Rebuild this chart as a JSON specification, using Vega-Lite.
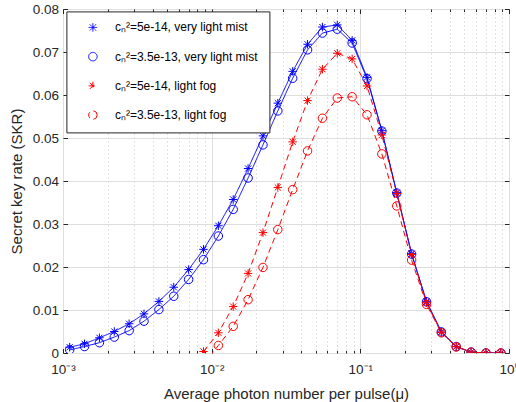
{
  "$schema": "https://vega.github.io/schema/vega-lite/v6.json",
  "width": 446,
  "height": 344,
  "autosize": "none",
  "padding": {"left": 63, "top": 9, "right": 7, "bottom": 49},
  "background": "white",
  "config": {
    "font": "Liberation Sans",
    "view": {"stroke": "#262626", "strokeWidth": 1},
    "axis": {"labelFont": "Liberation Sans", "titleFont": "Liberation Sans", "labelColor": "#262626", "titleColor": "#262626", "tickColor": "#262626", "domain": false, "titleFontWeight": "normal", "labelFontSize": 13.5, "titleFontSize": 15},
    "legend": {
      "orient": "none", "legendX": 3.4, "legendY": 2.4, "title": null,
      "padding": 11, "strokeColor": "#262626", "strokeWidth": 1, "fillColor": "white",
      "clipHeight": 10.1, "rowPadding": 16.2,
      "symbolSize": 72, "symbolOffset": 9.5, "labelOffset": 16, "symbolDash": [1, 0], "symbolStrokeWidth": 1,
      "labelFont": "Liberation Sans", "labelFontSize": 12, "labelColor": "#000000", "labelLimit": 0
    }
  },
  "data": {"values": [
    {"mu": 0.001109, "skr": 0.00135, "s": "a"},
    {"mu": 0.001396, "skr": 0.00214, "s": "a"},
    {"mu": 0.001758, "skr": 0.00354, "s": "a"},
    {"mu": 0.002213, "skr": 0.0050, "s": "a"},
    {"mu": 0.002786, "skr": 0.0068, "s": "a"},
    {"mu": 0.003507, "skr": 0.0091, "s": "a"},
    {"mu": 0.004416, "skr": 0.0120, "s": "a"},
    {"mu": 0.005559, "skr": 0.0153, "s": "a"},
    {"mu": 0.006998, "skr": 0.0194, "s": "a"},
    {"mu": 0.00881, "skr": 0.0241, "s": "a"},
    {"mu": 0.01109, "skr": 0.0296, "s": "a"},
    {"mu": 0.01396, "skr": 0.0357, "s": "a"},
    {"mu": 0.01758, "skr": 0.0429, "s": "a"},
    {"mu": 0.02213, "skr": 0.0505, "s": "a"},
    {"mu": 0.02786, "skr": 0.0581, "s": "a"},
    {"mu": 0.03507, "skr": 0.0655, "s": "a"},
    {"mu": 0.04416, "skr": 0.0718, "s": "a"},
    {"mu": 0.05559, "skr": 0.0758, "s": "a"},
    {"mu": 0.06998, "skr": 0.0763, "s": "a"},
    {"mu": 0.0881, "skr": 0.0727, "s": "a"},
    {"mu": 0.1109, "skr": 0.0641, "s": "a"},
    {"mu": 0.1396, "skr": 0.0517, "s": "a"},
    {"mu": 0.1758, "skr": 0.0373, "s": "a"},
    {"mu": 0.2213, "skr": 0.0231, "s": "a"},
    {"mu": 0.2786, "skr": 0.0120, "s": "a"},
    {"mu": 0.3507, "skr": 0.0049, "s": "a"},
    {"mu": 0.4416, "skr": 0.0015, "s": "a"},
    {"mu": 0.5559, "skr": 0.0002, "s": "a"},
    {"mu": 0.6998, "skr": 0.0, "s": "a"},
    {"mu": 0.881, "skr": 0.0, "s": "a"},

    {"mu": 0.001109, "skr": 0.00075, "s": "b"},
    {"mu": 0.001396, "skr": 0.0015, "s": "b"},
    {"mu": 0.001758, "skr": 0.0024, "s": "b"},
    {"mu": 0.002213, "skr": 0.0037, "s": "b"},
    {"mu": 0.002786, "skr": 0.0052, "s": "b"},
    {"mu": 0.003507, "skr": 0.0074, "s": "b"},
    {"mu": 0.004416, "skr": 0.0101, "s": "b"},
    {"mu": 0.005559, "skr": 0.0132, "s": "b"},
    {"mu": 0.006998, "skr": 0.0171, "s": "b"},
    {"mu": 0.00881, "skr": 0.0217, "s": "b"},
    {"mu": 0.01109, "skr": 0.0272, "s": "b"},
    {"mu": 0.01396, "skr": 0.0334, "s": "b"},
    {"mu": 0.01758, "skr": 0.0407, "s": "b"},
    {"mu": 0.02213, "skr": 0.0484, "s": "b"},
    {"mu": 0.02786, "skr": 0.0563, "s": "b"},
    {"mu": 0.03507, "skr": 0.0639, "s": "b"},
    {"mu": 0.04416, "skr": 0.0705, "s": "b"},
    {"mu": 0.05559, "skr": 0.0744, "s": "b"},
    {"mu": 0.06998, "skr": 0.0753, "s": "b"},
    {"mu": 0.0881, "skr": 0.0721, "s": "b"},
    {"mu": 0.1109, "skr": 0.0638, "s": "b"},
    {"mu": 0.1396, "skr": 0.0516, "s": "b"},
    {"mu": 0.1758, "skr": 0.0372, "s": "b"},
    {"mu": 0.2213, "skr": 0.0230, "s": "b"},
    {"mu": 0.2786, "skr": 0.0119, "s": "b"},
    {"mu": 0.3507, "skr": 0.0049, "s": "b"},
    {"mu": 0.4416, "skr": 0.0015, "s": "b"},
    {"mu": 0.5559, "skr": 0.0002, "s": "b"},
    {"mu": 0.6998, "skr": 0.0, "s": "b"},
    {"mu": 0.881, "skr": 0.0, "s": "b"},

    {"mu": 0.00881, "skr": 0.00035, "s": "c"},
    {"mu": 0.01109, "skr": 0.0047, "s": "c"},
    {"mu": 0.01396, "skr": 0.0108, "s": "c"},
    {"mu": 0.01758, "skr": 0.0185, "s": "c"},
    {"mu": 0.02213, "skr": 0.0280, "s": "c"},
    {"mu": 0.02786, "skr": 0.0385, "s": "c"},
    {"mu": 0.03507, "skr": 0.0491, "s": "c"},
    {"mu": 0.04416, "skr": 0.0587, "s": "c"},
    {"mu": 0.05559, "skr": 0.0660, "s": "c"},
    {"mu": 0.06998, "skr": 0.0697, "s": "c"},
    {"mu": 0.0881, "skr": 0.0684, "s": "c"},
    {"mu": 0.1109, "skr": 0.0621, "s": "c"},
    {"mu": 0.1396, "skr": 0.0507, "s": "c"},
    {"mu": 0.1758, "skr": 0.0371, "s": "c"},
    {"mu": 0.2213, "skr": 0.0229, "s": "c"},
    {"mu": 0.2786, "skr": 0.0117, "s": "c"},
    {"mu": 0.3507, "skr": 0.0048, "s": "c"},
    {"mu": 0.4416, "skr": 0.0015, "s": "c"},
    {"mu": 0.5559, "skr": 0.0002, "s": "c"},
    {"mu": 0.6998, "skr": 0.0, "s": "c"},
    {"mu": 0.881, "skr": 0.0, "s": "c"},

    {"mu": 0.00881, "skr": -0.0026, "s": "d"},
    {"mu": 0.01109, "skr": 0.00175, "s": "d"},
    {"mu": 0.01396, "skr": 0.0062, "s": "d"},
    {"mu": 0.01758, "skr": 0.0124, "s": "d"},
    {"mu": 0.02213, "skr": 0.0199, "s": "d"},
    {"mu": 0.02786, "skr": 0.0287, "s": "d"},
    {"mu": 0.03507, "skr": 0.0380, "s": "d"},
    {"mu": 0.04416, "skr": 0.0470, "s": "d"},
    {"mu": 0.05559, "skr": 0.0546, "s": "d"},
    {"mu": 0.06998, "skr": 0.0593, "s": "d"},
    {"mu": 0.0881, "skr": 0.0596, "s": "d"},
    {"mu": 0.1109, "skr": 0.0554, "s": "d"},
    {"mu": 0.1396, "skr": 0.0463, "s": "d"},
    {"mu": 0.1758, "skr": 0.0342, "s": "d"},
    {"mu": 0.2213, "skr": 0.0216, "s": "d"},
    {"mu": 0.2786, "skr": 0.0113, "s": "d"},
    {"mu": 0.3507, "skr": 0.0047, "s": "d"},
    {"mu": 0.4416, "skr": 0.0014, "s": "d"},
    {"mu": 0.5559, "skr": 0.0002, "s": "d"},
    {"mu": 0.6998, "skr": 0.0, "s": "d"},
    {"mu": 0.881, "skr": 0.0, "s": "d"}
  ]},
  "resolve": {"axis": {"x": "independent", "y": "independent"}},
  "layer": [
    {
      "mark": {"type": "line", "strokeWidth": 1, "clip": true},
      "encoding": {
        "x": {"field": "mu", "type": "quantitative",
          "scale": {"type": "log", "domain": [0.001, 1], "nice": false},
          "axis": {"orient": "bottom", "title": "Average photon number per pulse(μ)",
            "values": [0.001, 0.002, 0.003, 0.004, 0.005, 0.006, 0.007, 0.008, 0.009, 0.01, 0.02, 0.03, 0.04, 0.05, 0.06, 0.07, 0.08, 0.09, 0.1, 0.2, 0.3, 0.4, 0.5, 0.6, 0.7, 0.8, 0.9, 1],
            "labelExpr": "datum.value == 0.001 ? '10⁻³' : datum.value == 0.01 ? '10⁻²' : datum.value == 0.1 ? '10⁻¹' : datum.value == 1 ? '10⁰' : ''",
            "labelFlush": false, "labelOverlap": false,
            "grid": true,
            "gridColor": {"condition": {"test": "datum.value == 0.001 || datum.value == 0.01 || datum.value == 0.1 || datum.value == 1", "value": "#dedede"}, "value": "#c4c4c4"},
            "gridDash": {"condition": {"test": "datum.value == 0.001 || datum.value == 0.01 || datum.value == 0.1 || datum.value == 1", "value": []}, "value": [1, 3]},
            "tickSize": {"condition": {"test": "datum.value == 0.001 || datum.value == 0.01 || datum.value == 0.1 || datum.value == 1", "value": -4.5}, "value": -2.5},
            "labelPadding": 14, "titlePadding": 8}},
        "y": {"field": "skr", "type": "quantitative",
          "scale": {"domain": [0, 0.08], "nice": false, "zero": false},
          "axis": {"orient": "left", "title": "Secret key rate (SKR)",
            "values": [0, 0.01, 0.02, 0.03, 0.04, 0.05, 0.06, 0.07, 0.08],
            "format": ".2~f", "grid": true, "gridColor": "#dedede",
            "tickSize": -4.5, "labelPadding": 9, "titlePadding": 8}},
        "color": {"field": "s", "type": "nominal",
          "scale": {"domain": ["a", "b", "c", "d"], "range": ["#0000ff", "#0000ff", "#ff0000", "#ff0000"]}},
        "strokeDash": {"field": "s", "type": "nominal",
          "scale": {"domain": ["a", "b", "c", "d"], "range": [[1, 0], [1, 0], [6, 4], [6, 4]]}}
      }
    },
    {
      "mark": {"type": "point", "filled": false, "strokeWidth": 1, "opacity": 1, "size": 72, "clip": true},
      "encoding": {
        "x": {"field": "mu", "type": "quantitative",
          "axis": {"orient": "top", "title": null, "labels": false, "grid": false,
            "values": [0.001, 0.002, 0.003, 0.004, 0.005, 0.006, 0.007, 0.008, 0.009, 0.01, 0.02, 0.03, 0.04, 0.05, 0.06, 0.07, 0.08, 0.09, 0.1, 0.2, 0.3, 0.4, 0.5, 0.6, 0.7, 0.8, 0.9, 1],
            "tickSize": {"condition": {"test": "datum.value == 0.001 || datum.value == 0.01 || datum.value == 0.1 || datum.value == 1", "value": -4.5}, "value": -2.5}}},
        "y": {"field": "skr", "type": "quantitative",
          "axis": {"orient": "right", "title": null, "labels": false, "grid": false,
            "values": [0, 0.01, 0.02, 0.03, 0.04, 0.05, 0.06, 0.07, 0.08], "tickSize": -4.5}},
        "color": {"field": "s", "type": "nominal"},
        "shape": {"field": "s", "type": "nominal",
          "scale": {"domain": ["a", "b", "c", "d"], "range": ["M0,-1L0,1M-1,0L1,0M-0.72,-0.72L0.72,0.72M-0.72,0.72L0.72,-0.72", "circle", "M0,-1L0,1M-1,0L1,0M-0.72,-0.72L0.72,0.72M-0.72,0.72L0.72,-0.72", "circle"]},
          "legend": {
            "labelExpr": "datum.value == 'a' ? 'cₙ²=5e-14, very light mist' : datum.value == 'b' ? 'cₙ²=3.5e-13, very light mist' : datum.value == 'c' ? 'cₙ²=5e-14, light fog' : 'cₙ²=3.5e-13, light fog'"
          }
        }
      }
    }
  ]
}
